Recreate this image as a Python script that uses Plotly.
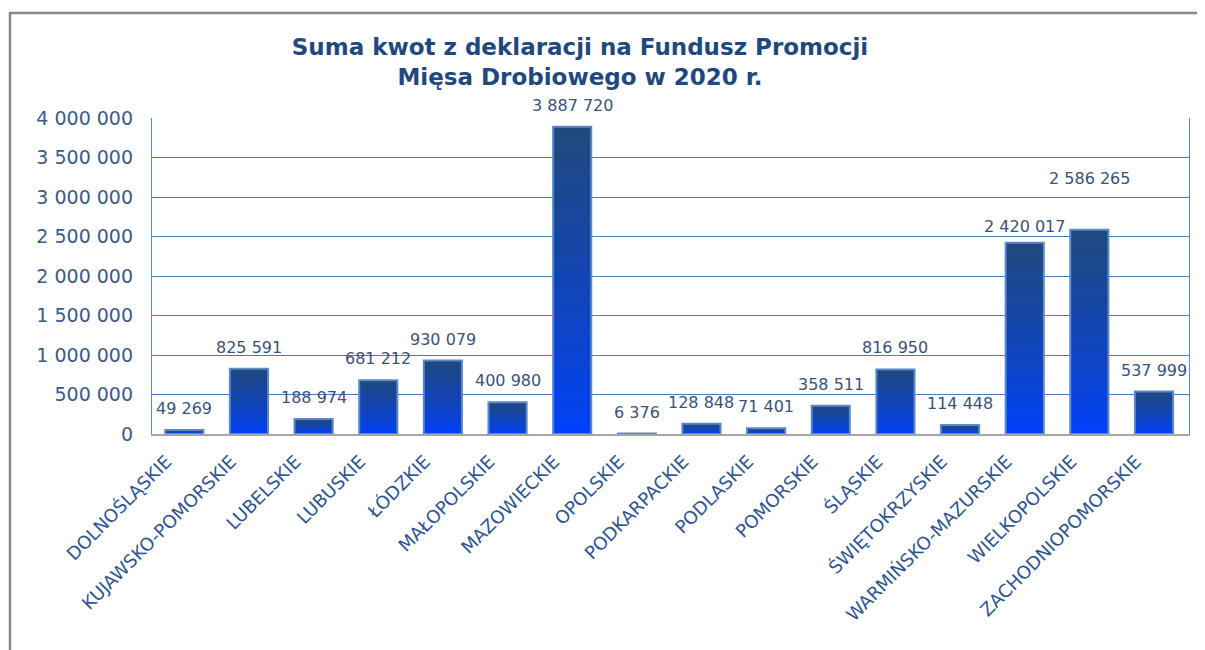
import plotly.graph_objects as go

categories = ["DOLNOŚLĄSKIE", "KUJAWSKO-POMORSKIE", "LUBELSKIE", "LUBUSKIE", "ŁÓDZKIE",
              "MAŁOPOLSKIE", "MAZOWIECKIE", "OPOLSKIE", "PODKARPACKIE", "PODLASKIE",
              "POMORSKIE", "ŚLĄSKIE", "ŚWIĘTOKRZYSKIE", "WARMIŃSKO-MAZURSKIE",
              "WIELKOPOLSKIE", "ZACHODNIOPOMORSKIE"]
values = [49269, 825591, 188974, 681212, 930079, 400980, 3887720, 6376, 128848, 71401,
          358511, 816950, 114448, 2420017, 2586265, 537999]
y_ticks = [0, 500000, 1000000, 1500000, 2000000, 2500000, 3000000, 3500000, 4000000]

TITLE = "Suma kwot z deklaracji na Fundusz Promocji<br>Mięsa Drobiowego w 2020 r."

# page is rendered with an 8px body margin -> shift everything by 8px
OFF = 8
W, H = 1205 - OFF, 650 - OFF
ML, MT = 152 - OFF, 118 - OFF
PW, PH = 1189 - 152, 434 - 118
MR = W - ML - PW
MB = H - MT - PH

dark = (31, 73, 125)
bright = (0, 64, 255)
N = 40

fig = go.Figure()
for k in range(N, 0, -1):
    f = (k - 0.5) / N
    t = min(1.0, f ** 0.8)
    c = tuple(round(bright[i] * (1 - t) + dark[i] * t) for i in range(3))
    fig.add_trace(go.Bar(
        x=categories, y=[v * k / N for v in values],
        marker=dict(color="rgb(%d,%d,%d)" % c, line=dict(width=0)),
        hoverinfo="skip", showlegend=False,
    ))

fig.add_trace(go.Bar(
    x=categories, y=values,
    marker=dict(color="rgba(0,0,0,0)", line=dict(color="#5b88c6", width=2)),
    showlegend=False,
))

extra_shift = {"WIELKOPOLSKIE": 30, "WARMIŃSKO-MAZURSKIE": -5}
annotations = []
for cat, v in zip(categories, values):
    annotations.append(dict(
        x=cat, y=v, xref="x", yref="y", yanchor="bottom", showarrow=False,
        text=f"{v:,}".replace(",", " "),
        yshift=10 + extra_shift.get(cat, 0),
        font=dict(family="DejaVu Sans", size=16, color="#3b5278"),
    ))

fig.update_layout(
    width=W, height=H,
    margin=dict(l=ML, r=MR, t=MT, b=MB),
    barmode="overlay", bargap=0.41,
    separators=", ",
    plot_bgcolor="white", paper_bgcolor="white",
    font=dict(family="DejaVu Sans", color="#3d5a87"),
    title=dict(text=TITLE, x=(580 - OFF) / W, xanchor="center", xref="container",
               y=1 - (55 - OFF) / H, yanchor="top", yref="container",
               font=dict(family="DejaVu Sans", size=23, color="#1f497d", weight="bold")),
    xaxis=dict(tickangle=-45, tickfont=dict(size=18, color="#2f5490"),
               ticklabelshift=-18, ticklabelstandoff=8,
               showline=True, linecolor="#a6a6a6", linewidth=2, ticks=""),
    yaxis=dict(range=[0, 4000000], tickvals=y_ticks, tickformat=",d",
               tickfont=dict(size=19, color="#3d5a87"),
               showgrid=True, gridcolor="#4f79b5", gridwidth=1.3,
               showline=True, mirror=True, linecolor="#5b88c6", linewidth=1.3,
               zeroline=False, ticks="outside", ticklen=14, tickcolor="rgba(0,0,0,0)"),
    annotations=annotations,
    shapes=[dict(type="rect", xref="paper", yref="paper",
                 x0=(10 - 152) / PW, x1=(1205 + 20 - 152) / PW,
                 y0=(434 - 680) / PH, y1=(434 - 13) / PH,
                 line=dict(color="#888888", width=2.5), layer="below")],
)

fig.write_html("out.html")
